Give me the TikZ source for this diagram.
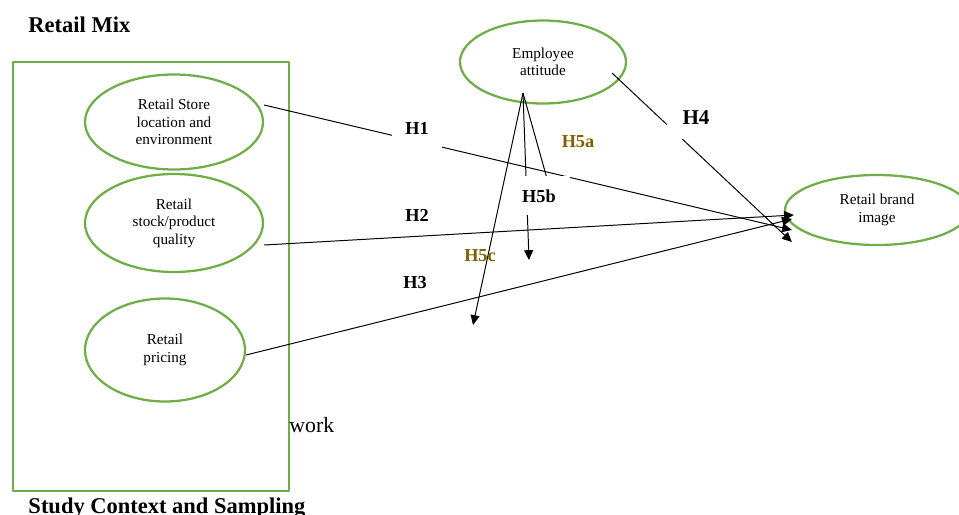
\documentclass[tikz,border=0pt]{standalone}
\usepackage{fontspec}
\setmainfont{Liberation Serif}
\usetikzlibrary{shapes.geometric,arrows.meta}
\definecolor{boxgreen}{HTML}{70AD47}
\definecolor{hypbrown}{HTML}{7F6000}
\def\dd{0.025cm}
\tikzset{
	oval/.style={ellipse, draw=boxgreen, line width=1.6pt, inner sep=0pt, align=center, font=\fontsize{10.8}{12.4}\selectfont},
	hyp/.style={font=\fontsize{13}{15}\selectfont\bfseries, inner sep=0pt, anchor=base},
	gapbox/.style={fill=white},
	title/.style={font=\fontsize{16}{19}\selectfont\bfseries, inner sep=0pt, anchor=base west},
}
\begin{document}
\begin{tikzpicture}[x=\dd, y=-\dd, line join=round, line width=0.7pt, >={Triangle[length=7pt,width=6.4pt]}]
			\useasboundingbox (0,0) rectangle (959,514);
			% retail mix block
			\draw[boxgreen, line width=1.4pt] (13,62) rectangle (289,491);
			\node[title] (mix) at (28,32) {Retail Mix};
			\node[title] (ctx) at (28,513) {Study Context and Sampling};
			\node[inner sep=0pt, anchor=base west, font=\fontsize{15.5}{18}\selectfont] (wrk) at (289,432) {work};
			\node[oval, minimum width=178*\dd, minimum height=95*\dd] (store) at (174,122) {Retail Store\\location and\\environment};
			\node[oval, minimum width=178*\dd, minimum height=98*\dd] (qual) at (174,223) {Retail\\stock/product\\quality};
			\node[oval, minimum width=160*\dd, minimum height=103*\dd] (price) at (165,350) {Retail\\pricing};
			\node[oval, minimum width=166*\dd, minimum height=83*\dd] (att) at (543,62) {Employee\\attitude};
			\node[oval, minimum width=184*\dd, minimum height=70*\dd] (brand) at (877,210) {Retail brand\\image};
			% moderator fork
			\path
			([shift={(-20,31)}]att.center) coordinate (fork)
			([shift={(10,138)}]att.center) coordinate (E5a)
			([shift={(-14,198)}]att.center) coordinate (E5b)
			([shift={(-70,263)}]att.center) coordinate (E5c)
			;
			\draw[->] ([yshift=17*\dd]store.east) -- ([shift={(8,20)}]brand.west);
			\draw[->] ([yshift=-22*\dd]qual.east) -- ([shift={(10,5)}]brand.west);
			\draw[->] ([yshift=-5*\dd]price.east) -- ([shift={(8,9)}]brand.west);
			\draw[->] ([shift={(69,11)}]att.center) -- ([shift={(8,32)}]brand.west);
			\foreach \e in {E5a,E5b,E5c}
			\draw[->] (fork)--(\e);
			% labels (white boxes break the lines)
			\node[hyp, gapbox, text height=11.7pt, text depth=10.6pt, minimum width=35.4pt] (H1) at (417,134) {H1};
			\node[hyp, gapbox, font=\fontsize{15}{18}\selectfont\bfseries, text height=14.2pt, text depth=10.6pt, minimum width=41pt] (H4) at (696,124) {H4};
			\node[hyp, gapbox, text height=18.8pt, text depth=9.2pt, minimum width=43.9pt] (H5b) at (539,202.5) {H5b};
			\foreach \t/\x/\y/\c in {H2/417/221/black, H3/415/288/black, H5a/578/147/hypbrown, H5c/480/261/hypbrown}
			\node[hyp, text=\c] (\t) at (\x,\y) {\t};
\end{tikzpicture}
\end{document}
